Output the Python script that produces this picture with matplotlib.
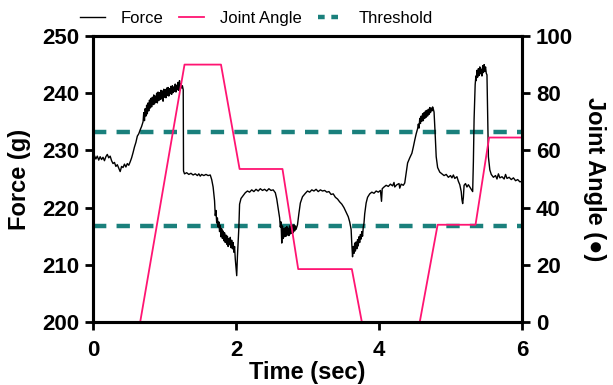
import numpy as np
import matplotlib
matplotlib.use("Agg")
import matplotlib.pyplot as plt
from matplotlib.lines import Line2D

plt.rcParams["font.family"] = ["Liberation Sans", "DejaVu Sans"]

# force trace (sec, g)
force_t = [0.00, 0.005, 0.02, 0.04, 0.06, 0.08, 0.10, 0.12, 0.14, 0.16, 0.18, 0.20,
           0.22, 0.24, 0.26, 0.28, 0.30, 0.32, 0.34, 0.36, 0.38, 0.40, 0.42, 0.44,
           0.46, 0.48, 0.50, 0.52, 0.54, 0.56, 0.58, 0.60, 0.62, 0.64, 0.66, 0.68,
           0.70, 0.71, 0.72, 0.73, 0.74, 0.75, 0.76, 0.77, 0.78, 0.79, 0.80, 0.81,
           0.82, 0.83, 0.84, 0.85, 0.86, 0.87, 0.88, 0.89, 0.90, 0.91, 0.92, 0.93,
           0.94, 0.95, 0.96, 0.97, 0.98, 0.99, 1.00, 1.01, 1.02, 1.03, 1.04, 1.05,
           1.06, 1.07, 1.08, 1.09, 1.10, 1.11, 1.12, 1.13, 1.14, 1.15, 1.16, 1.17,
           1.18, 1.19, 1.20, 1.21, 1.22, 1.23, 1.24, 1.25,
           1.262, 1.266, 1.28, 1.31, 1.34, 1.37, 1.40, 1.43, 1.46, 1.48, 1.50, 1.52,
           1.55, 1.58, 1.61, 1.64, 1.66, 1.68, 1.70, 1.71, 1.72, 1.73, 1.74, 1.75,
           1.76, 1.77, 1.78, 1.79, 1.80, 1.81, 1.82, 1.83, 1.84, 1.85, 1.86, 1.87,
           1.88, 1.89, 1.90, 1.91, 1.92, 1.93, 1.94, 1.95, 1.96, 1.97, 1.98, 1.99,
           2.00, 2.01, 2.02, 2.04, 2.05, 2.07, 2.10, 2.13, 2.16, 2.19, 2.22, 2.25,
           2.28, 2.31, 2.34, 2.37, 2.40, 2.43, 2.46, 2.49, 2.52, 2.55, 2.57, 2.59,
           2.61, 2.62, 2.63, 2.64, 2.65, 2.66, 2.67, 2.68, 2.69, 2.70, 2.71, 2.72,
           2.73, 2.74, 2.75, 2.76, 2.77, 2.78, 2.79, 2.80, 2.81, 2.82, 2.83, 2.84,
           2.86, 2.88, 2.90, 2.93, 2.97, 3.00, 3.03, 3.06, 3.09, 3.12, 3.15, 3.18,
           3.21, 3.24, 3.27, 3.30, 3.33, 3.36, 3.39, 3.42, 3.45, 3.48, 3.51, 3.54,
           3.57, 3.59, 3.61, 3.62, 3.63, 3.64, 3.65, 3.66, 3.67, 3.68, 3.69, 3.70,
           3.71, 3.72, 3.73, 3.74, 3.75, 3.76, 3.77, 3.78, 3.79, 3.80, 3.82, 3.84,
           3.87, 3.90, 3.93, 3.96, 3.99, 4.02, 4.035, 4.045, 4.07, 4.10, 4.13, 4.16,
           4.19, 4.21, 4.22, 4.25, 4.28, 4.29, 4.31, 4.34, 4.36, 4.38, 4.40, 4.43,
           4.46, 4.48, 4.50, 4.52, 4.54, 4.55, 4.56, 4.57, 4.58, 4.59, 4.60, 4.61,
           4.62, 4.63, 4.64, 4.65, 4.66, 4.67, 4.68, 4.69, 4.70, 4.71, 4.72, 4.73,
           4.74, 4.75, 4.76, 4.77, 4.785, 4.80, 4.82, 4.85, 4.88, 4.91, 4.94, 4.97,
           5.00, 5.02, 5.04, 5.06, 5.09, 5.11, 5.13, 5.15, 5.16, 5.17, 5.18, 5.19,
           5.21, 5.23, 5.25, 5.27, 5.29, 5.31, 5.32, 5.33, 5.345, 5.355, 5.36, 5.37,
           5.38, 5.39, 5.40, 5.41, 5.42, 5.43, 5.44, 5.45, 5.46, 5.47, 5.48, 5.49,
           5.50, 5.51, 5.52, 5.53, 5.55, 5.57, 5.60, 5.63, 5.65, 5.67, 5.69, 5.72,
           5.75, 5.77, 5.79, 5.82, 5.85, 5.88, 5.91, 5.94, 5.97, 6.00]
force_g = [231.8, 228.4, 229.1, 228.5, 229.0, 228.3, 228.9, 228.4, 228.8, 228.2, 228.9, 229.3,
           228.7, 229.0, 228.2, 227.7, 227.9, 227.2, 227.5, 226.9, 226.3, 227.2, 227.0, 227.6,
           227.1, 227.7, 227.4, 228.0, 228.7, 229.6, 230.6, 231.4, 232.5, 232.9, 233.6, 234.2,
           235.0, 236.6, 235.2, 237.3, 236.0, 237.9, 236.4, 238.3, 236.9, 238.8, 237.4, 239.1,
           237.6, 239.3, 238.0, 239.7, 238.1, 239.5, 238.4, 240.0, 238.3, 240.2, 238.7, 240.1,
           238.9, 240.5, 239.0, 240.4, 238.6, 240.7, 239.3, 240.6, 239.2, 240.9, 239.6, 241.0,
           239.5, 240.8, 239.9, 241.2, 239.8, 241.3, 240.1, 241.1, 240.3, 241.6, 240.2, 241.4,
           240.6, 241.9, 240.5, 242.2, 240.8, 241.7, 240.9, 241.3,
           240.6, 226.4, 225.9, 226.1, 225.8, 226.0, 225.7, 225.9, 225.6, 225.9, 225.5, 225.8,
           225.6, 225.8, 225.6, 225.7, 224.9, 223.6, 221.2, 218.6, 219.5, 217.3, 218.2, 216.6,
           217.5, 215.8, 216.9, 214.9, 216.3, 214.6, 215.9, 214.2, 215.6, 213.9, 215.2, 213.6,
           215.0, 213.2, 214.6, 213.5, 214.8, 213.0, 214.3, 212.8, 213.9, 212.2, 213.2, 211.0,
           209.6, 208.1, 211.5, 216.5, 220.6, 221.6, 222.1, 222.6, 222.9, 222.7, 223.1, 222.8,
           223.2, 222.9, 223.3, 223.0, 223.2, 222.9, 223.3, 223.0, 223.1, 222.6, 221.5, 219.8,
           218.2, 216.6, 217.5, 213.8, 216.8, 214.6, 216.3, 214.9, 216.5, 215.0, 216.7, 215.2,
           216.4, 215.1, 216.8, 215.4, 216.6, 215.5, 216.9, 215.6, 217.0, 215.9, 216.8, 216.2,
           217.0, 219.0, 220.8, 221.9, 222.5, 222.9, 222.7, 223.1, 222.9, 223.2, 222.8, 223.1,
           222.9, 223.0, 222.7, 222.8, 222.3, 222.4, 221.8, 221.5, 221.0, 220.6, 220.0, 219.2,
           218.4, 217.5, 216.2, 213.5, 211.4, 213.2, 212.0, 213.8, 212.4, 214.0, 212.8, 214.4,
           213.3, 214.9, 213.9, 215.3, 214.5, 215.8, 215.0, 216.6, 217.3, 218.9, 220.8, 221.8,
           222.4, 222.7, 222.5, 222.9, 222.7, 223.0, 221.1, 223.3, 223.6, 223.9, 223.7, 224.1,
           223.8, 224.4, 223.6, 224.0, 224.2, 223.4, 224.1, 223.9, 224.3, 226.0, 227.8, 228.7,
           229.5, 230.6, 231.8, 232.9, 233.8, 234.6, 233.9, 235.6, 234.7, 236.0, 235.1, 236.4,
           235.2, 236.6, 235.6, 236.9, 235.8, 237.0, 236.0, 237.2, 236.3, 237.5, 236.6, 237.4,
           236.9, 237.6, 237.2, 236.7, 233.0, 228.9, 227.0, 226.2, 225.9, 225.6, 225.8, 225.3,
           225.6, 225.2, 225.7, 225.1, 225.4, 224.6, 224.0, 222.8, 221.4, 220.7, 221.8, 223.9,
           224.2, 223.6, 224.0, 223.6, 223.2, 222.8, 228.0, 235.5, 241.5, 243.0, 242.2, 244.0,
           242.8, 244.3, 243.1, 244.6, 243.4, 244.2, 243.0, 244.8, 243.6, 245.0, 243.8, 244.6,
           243.5, 243.2, 236.0, 228.9, 226.6, 225.8, 225.3, 225.6, 225.0, 225.9, 225.2, 225.4,
           225.0, 225.8, 225.1, 225.3, 224.9, 225.2, 224.7, 224.9, 224.5, 224.6]

# joint angle (deg) corner points
angle_t = [0, 0.66, 1.28, 1.79, 2.05, 2.65, 2.87, 3.62, 3.76, 4.57, 4.82, 5.35, 5.54, 6.0]
angle_deg = [0, 0, 90, 90, 53.5, 53.5, 18.5, 18.5, 0, 0, 34, 34, 64.5, 64.5]

thresholds = [233.3, 216.7]

pink = "#ff1472"
teal = "#1a807c"

fig = plt.figure(figsize=(6.13, 3.85), dpi=100)
ax = fig.add_axes([93 / 613, 1 - 322 / 385, (522 - 93) / 613, (322 - 36) / 385])
ax2 = ax.twinx()

for th in thresholds:
    ax.plot([0, 6], [th, th], color=teal, lw=3.2, dashes=(3, 2.3), zorder=1)
ax.plot(force_t, force_g, color="black", lw=1.0, zorder=2)
ax2.plot(angle_t, angle_deg, color=pink, lw=1.3)

ax.set_xlim(0, 6)
ax.set_ylim(200, 250)
ax2.set_ylim(0, 100)
ax.set_xticks([0, 2, 4, 6])
ax.set_yticks(range(200, 251, 10))
ax2.set_yticks(range(0, 101, 20))

for a in (ax, ax2):
    for s in a.spines.values():
        s.set_linewidth(2.2)
    a.tick_params(width=2, length=6, labelsize=16, pad=4)
    for lab in a.get_xticklabels() + a.get_yticklabels():
        lab.set_fontweight("bold")
ax.tick_params(axis="x", pad=7)

ax.set_xlabel("Time (sec)", fontsize=17, fontweight="bold", labelpad=0)
ax.set_ylabel("Force (g)", fontsize=17, fontweight="bold", labelpad=8)
ax2.set_ylabel("Joint Angle (\u25cf)", fontsize=17, fontweight="bold",
               rotation=270, labelpad=24)

handles = [Line2D([], [], color="black", lw=1.0),
           Line2D([], [], color=pink, lw=1.3),
           Line2D([], [], color=teal, lw=3.2, dashes=(1.5, 1.5))]
fig.legend(handles, ["Force", "Joint Angle", "Threshold"], loc="center",
           bbox_to_anchor=(0.418, 0.952), ncol=3, frameon=False, fontsize=12,
           handlelength=1.5, columnspacing=0.95, handletextpad=0.95)

fig.savefig("out.png", dpi=100)
